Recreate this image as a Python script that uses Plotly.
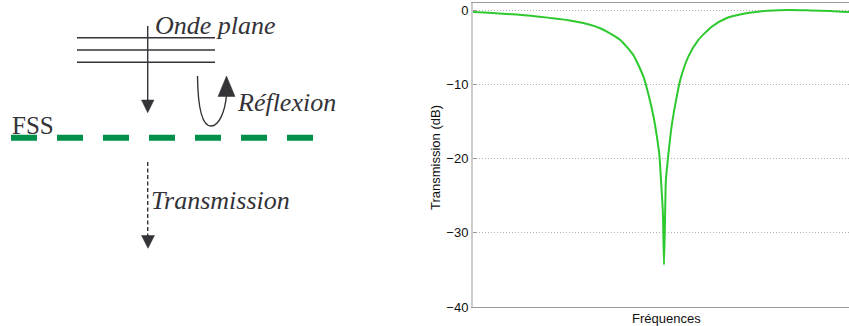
import plotly.graph_objects as go

# ---- Data ----
frequences = [0, 8.0, 17.0, 25.8, 31.1, 33.8, 35.6, 39.1, 42.6, 45.3, 46.6, 48.0, 48.9,
              49.6, 50.0, 50.5, 50.8, 51.1, 51.3, 51.9, 52.8, 54.2, 55.1, 57.3, 59.9,
              63.5, 67.5, 71.9, 76.3, 83.4, 89.6, 95.0, 100.0]
transmission_db = [-0.22, -0.45, -0.81, -1.35, -1.93, -2.4, -2.85, -3.96, -6.0, -8.9, -11.2,
                   -14.3, -17.0, -19.7, -22.9, -27.3, -34.3, -27.3, -22.9, -19.7, -15.7,
                   -11.6, -9.4, -6.2, -4.0, -2.2, -1.03, -0.45, -0.13, 0.05, 0.0, -0.08, -0.22]
y_ticks = [0, -10, -20, -30, -40]
y_tick_labels = ["0", "\u221210", "\u221220", "\u221230", "\u221240"]

W, H = 849, 326
DARK = "#333338"
GREEN = "#00904a"
SERIF = "Liberation Serif"
SANS = "Liberation Sans"

fig = go.Figure()
fig.add_trace(go.Scatter(x=frequences, y=transmission_db, mode="lines",
                         line=dict(color="#2ec92e", width=2, shape="spline", smoothing=0.6),
                         hoverinfo="skip", showlegend=False))

# ---- Diagram (left side): shapes in paper space, expressed in pixels ----
def px(x):
    return x / W

def py(y):
    return 1 - y / H

shapes = []
def line(x0, y0, x1, y1, color=DARK, width=1.4, dash=None):
    d = dict(type="line", xref="paper", yref="paper", x0=px(x0), y0=py(y0),
             x1=px(x1), y1=py(y1), line=dict(color=color, width=width))
    if dash:
        d["line"]["dash"] = dash
    shapes.append(d)

def tri(pts, color=DARK):
    p = "M " + " L ".join(f"{px(x)},{py(y)}" for x, y in pts) + " Z"
    shapes.append(dict(type="path", xref="paper", yref="paper", path=p,
                       fillcolor=color, line=dict(color=color, width=0.5)))

# plane wave fronts
for yy in (37.7, 50.0, 62.3):
    line(77, yy, 215, yy)
# incident arrow
line(147.7, 26, 147.7, 101)
tri([(141.5, 100), (154, 100), (147.7, 112.7)])
# FSS dashed green line
line(11, 137.7, 313.5, 137.7, color=GREEN, width=6, dash="26px,20px")
# transmitted dashed arrow
line(147.7, 162, 147.7, 236, width=1.4, dash="4px,2.5px")
tri([(141.5, 235.5), (154.5, 235.5), (148, 248.3)])
# reflection curved arrow
curve = [(197.5, 76), (198, 114), (204, 126), (211, 126), (219, 126), (225, 112), (226.5, 95)]
c = [f"{px(x)},{py(y)}" for x, y in curve]
shapes.append(dict(type="path", xref="paper", yref="paper",
                   path=f"M {c[0]} C {c[1]} {c[2]} {c[3]} C {c[4]} {c[5]} {c[6]}",
                   line=dict(color=DARK, width=1.4)))
tri([(218, 96.5), (235, 96.5), (226.5, 76)])

def label(text, x, y, size=26, italic=True):
    f = dict(family=SERIF, size=size, color=DARK)
    if italic:
        f["style"] = "italic"
    return dict(text=text, x=px(x), y=py(y), xref="paper", yref="paper", xanchor="left",
                yanchor="middle", showarrow=False, font=f)

annotations = [
    label("Onde plane", 153, 25),
    label("Réflexion", 235, 102.5),
    label("Transmission", 149, 200.5),
    label("FSS", 10, 125, size=25, italic=False),
    # axis titles
    dict(text="Fréquences", x=px(666), y=py(318), xref="paper", yref="paper",
         xanchor="center", yanchor="middle", showarrow=False,
         font=dict(family=SANS, size=13, color="#111")),
    dict(text="Transmission (dB)", x=px(435), y=py(158), xref="paper", yref="paper",
         xanchor="center", yanchor="middle", showarrow=False, textangle=-90,
         font=dict(family=SANS, size=13, color="#111")),
]

fig.update_layout(
    width=W, height=H, margin=dict(l=0, r=0, t=0, b=0, pad=0),
    paper_bgcolor="white", plot_bgcolor="white",
    shapes=shapes, annotations=annotations,
    xaxis=dict(domain=[473 / W, 1.0], range=[0, 100], showticklabels=False, ticks="",
               showgrid=False, zeroline=False, showline=True, mirror=True,
               linecolor="#9a9a9a", linewidth=1, automargin=False),
    yaxis=dict(domain=[1 - 307 / H, 1 - 3 / H], range=[-40, 1], tickvals=y_ticks,
               ticktext=y_tick_labels, ticks="inside", ticklen=4, tickcolor="#999",
               showgrid=True, gridcolor="#b0b0b0", griddash="1px,2px", gridwidth=1,
               zeroline=False, showline=True, linecolor="#cccccc", linewidth=2,
               automargin=False,
               tickfont=dict(family=SANS, size=13, color="#111")),
)

fig.write_html("out.html", config={"displayModeBar": False},
               post_script="document.body.style.margin='0';document.body.style.padding='0';")
